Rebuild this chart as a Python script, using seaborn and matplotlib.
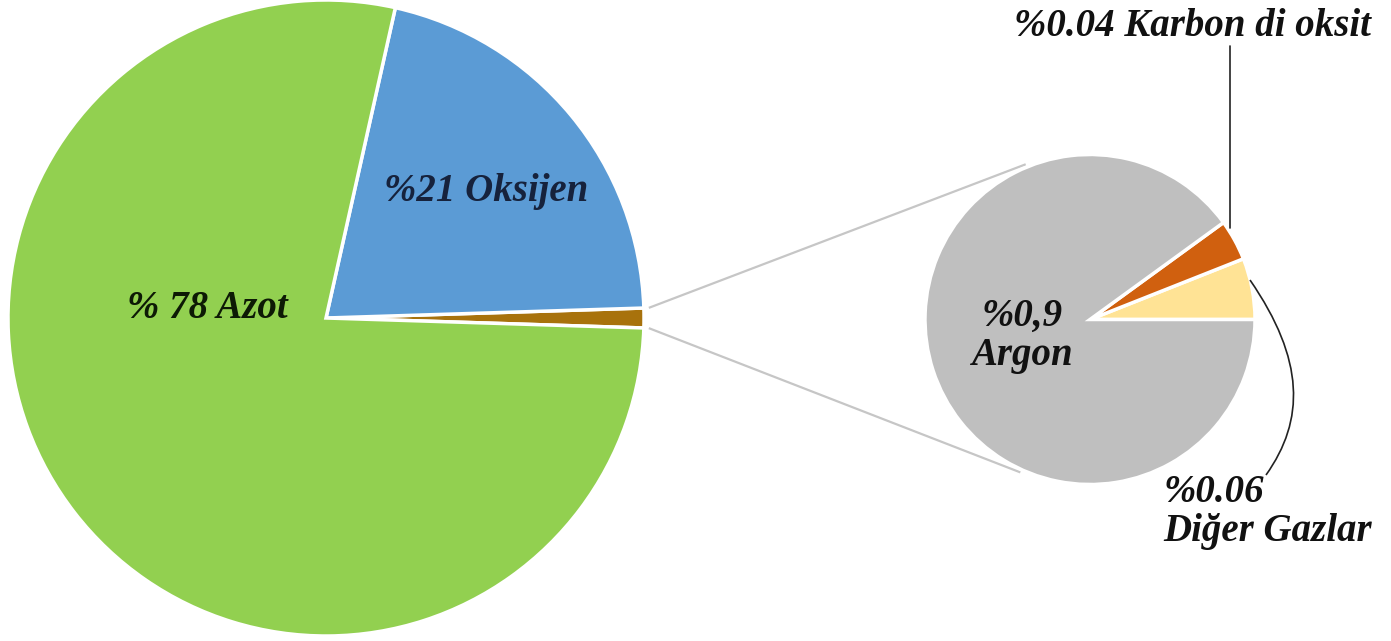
import numpy as np
import matplotlib
matplotlib.use("Agg")
import matplotlib.pyplot as plt
from matplotlib.path import Path
from matplotlib.patches import PathPatch
import seaborn as sns

# ---- data ----
big_labels = ["Diğer", "Oksijen", "Azot"]
big_values = [1, 21, 78]
small_labels = ["Diğer Gazlar", "Karbon di oksit", "Argon"]
small_values = [0.06, 0.04, 0.9]
label_texts = {
    "Azot": "% 78 Azot",
    "Oksijen": "%21 Oksijen",
    "Argon": "%0,9\nArgon",
    "Karbon": "%0.04 Karbon di oksit",
    "Diger": "%0.06\nDiğer Gazlar",
}

big_colors = ["#A8720C", "#5B9BD5", "#92D050"]
small_colors = ["#FFE395", "#D0600F", "#BFBFBF"]

sns.set_theme(style="white")
plt.rcParams["font.family"] = ["Liberation Serif", "DejaVu Serif"]

W, H = 1391, 641
fig = plt.figure(figsize=(W / 100, H / 100), dpi=100)
ax = fig.add_axes([0, 0, 1, 1])

def Y(py):
    return H - py

c1 = (326, Y(318)); r1 = 318
c2 = (1090, Y(319.5)); r2 = 165

ax.pie(big_values, colors=big_colors, startangle=-big_values[0] / sum(big_values) * 180,
       counterclock=True, radius=r1, center=c1,
       wedgeprops=dict(edgecolor="white", linewidth=2.5))
ax.pie(small_values, colors=small_colors, startangle=0, counterclock=True,
       radius=r2, center=c2,
       wedgeprops=dict(edgecolor="white", linewidth=2.5))

# connector lines
half = np.deg2rad(big_values[0] / sum(big_values) * 180)
for s, a2 in [(1, 112.5), (-1, -114.5)]:
    x0 = c1[0] + (r1 + 5) * np.cos(half)
    y0 = c1[1] + s * (r1 + 5) * np.sin(half)
    x1 = c2[0] + (r2 + 3) * np.cos(np.deg2rad(a2))
    y1 = c2[1] + (r2 + 3) * np.sin(np.deg2rad(a2))
    ax.plot([x0, x1], [y0, y1], color="#C6C6C6", lw=1.6, solid_capstyle="butt", zorder=0)

txt = dict(fontweight="bold", fontstyle="italic", fontsize=28)
ax.text(486, Y(191), label_texts["Oksijen"], ha="center", va="center", color="#16223C", **txt)
ax.text(207, Y(309), label_texts["Azot"], ha="center", va="center", color="#0D1A05", **txt)
ax.text(1022, Y(336), label_texts["Argon"], ha="center", va="center", color="#111111",
        linespacing=1.1, **txt)
ax.text(1192, Y(27), label_texts["Karbon"], ha="center", va="center", color="#111111", **txt)
ax.text(1163, Y(512), label_texts["Diger"], ha="left", va="center", color="#111111",
        linespacing=1.1, **txt)

# leader lines
ax.plot([1230, 1230], [Y(46), Y(228)], color="#222222", lw=1.2)
verts = [(1250, Y(280)), (1305, Y(360)), (1305, Y(420)), (1266, Y(475))]
ax.add_patch(PathPatch(Path(verts, [Path.MOVETO, Path.CURVE4, Path.CURVE4, Path.CURVE4]),
                       fill=False, edgecolor="#222222", lw=1.2))

ax.set_xlim(0, W)
ax.set_ylim(0, H)
ax.set_aspect("equal")
ax.axis("off")
fig.savefig("out.png", dpi=100, facecolor="white")
